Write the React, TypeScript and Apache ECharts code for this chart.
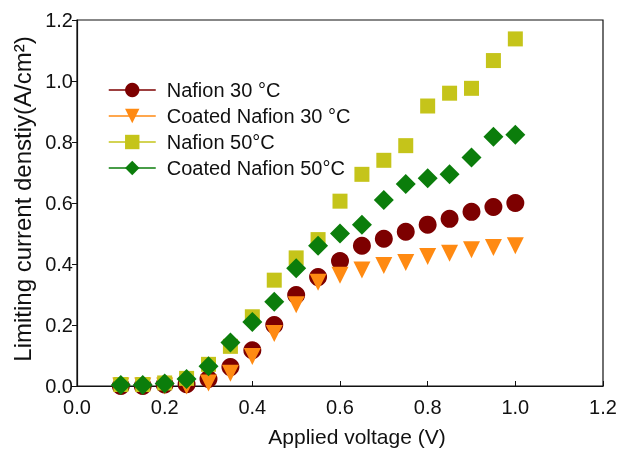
import React, { useEffect, useRef } from "react";
import * as echarts from "echarts";

const voltages = [0.1, 0.15, 0.2, 0.25, 0.3, 0.35, 0.4, 0.45, 0.5, 0.55, 0.6, 0.65, 0.7, 0.75, 0.8, 0.85, 0.9, 0.95, 1.0];
const nafion30 = [0.0, 0.0, 0.005, 0.006, 0.023, 0.062, 0.117, 0.2, 0.298, 0.357, 0.41, 0.46, 0.483, 0.506, 0.529, 0.548, 0.571, 0.587, 0.6];
const coated30 = [0.0, 0.0, 0.0, 0.0, 0.01, 0.042, 0.097, 0.172, 0.266, 0.34, 0.363, 0.38, 0.395, 0.405, 0.425, 0.435, 0.447, 0.454, 0.46];
const nafion50 = [0.005, 0.005, 0.01, 0.025, 0.071, 0.13, 0.227, 0.347, 0.42, 0.48, 0.606, 0.694, 0.74, 0.788, 0.918, 0.96, 0.976, 1.067, 1.138];
const coated50 = [0.003, 0.003, 0.008, 0.023, 0.065, 0.143, 0.21, 0.276, 0.386, 0.46, 0.5, 0.529, 0.61, 0.662, 0.681, 0.694, 0.749, 0.817, 0.824];
const seriesNames = ["Nafion 30 °C", "Coated Nafion 30 °C", "Nafion 50°C", "Coated Nafion 50°C"];

const FONT = "'Liberation Sans', Arial, sans-serif";

export default function App() {
  const ref = useRef<HTMLDivElement>(null);
  useEffect(() => {
    if (!ref.current) return;
    const chart = echarts.init(ref.current, undefined, { renderer: "svg" });
    const pair = (ys: number[]) => voltages.map((x, i) => [x, ys[i]]);
    const mk = (name: string, ys: number[], symbol: string, size: number, color: string, rot = 0) => ({
      name,
      type: "line",
      data: pair(ys),
      symbol,
      symbolSize: size,
      symbolRotate: rot,
      showSymbol: true,
      itemStyle: { color, opacity: 1 },
      lineStyle: { color, width: 0, opacity: 0 },
      emphasis: { disabled: true },
    });
    chart.setOption({
      animation: false,
      textStyle: { fontFamily: FONT },
      grid: { left: 77, right: 19, top: 20, bottom: 62, show: true, borderColor: "#111", borderWidth: 1.2 },
      legend: {
        orient: "vertical",
        left: 103,
        top: 75,
        itemWidth: 47,
        itemHeight: 18,
        itemGap: 6,
        textStyle: { fontSize: 20, lineHeight: 18, color: "#111", fontFamily: FONT, padding: [0, 0, 0, 6] },
        lineStyle: { width: 1.5, opacity: 1 },
        data: seriesNames,
      },
      xAxis: {
        type: "value",
        min: 0,
        max: 1.2,
        interval: 0.2,
        name: "Applied voltage (V)",
        nameLocation: "middle",
        nameGap: 40,
        nameTextStyle: { fontSize: 21, color: "#111", padding: [0, 0, 0, 34] },
        axisLine: { show: true, lineStyle: { color: "#111", width: 1.2 } },
        axisTick: { show: true, inside: true, length: 5, lineStyle: { color: "#111" } },
        axisLabel: { fontSize: 20, color: "#111", margin: 11, formatter: (v: number) => v.toFixed(1) },
        splitLine: { show: false },
      },
      yAxis: {
        type: "value",
        min: 0,
        max: 1.2,
        interval: 0.2,
        name: "Limiting current denstiy(A/cm²)",
        nameLocation: "middle",
        nameGap: 42,
        nameTextStyle: { fontSize: 24, color: "#111", padding: [0, 0, 0, 8] },
        axisLine: { show: true, lineStyle: { color: "#111", width: 1.2 } },
        axisTick: { show: true, inside: false, length: 5, lineStyle: { color: "#111" } },
        axisLabel: { fontSize: 20, color: "#111", margin: 4, formatter: (v: number) => v.toFixed(1) },
        splitLine: { show: false },
      },
      series: [
        mk(seriesNames[0], nafion30, "circle", 18, "#7d0000"),
        mk(seriesNames[1], coated30, "triangle", 17, "#ff8a12", 180),
        mk(seriesNames[2], nafion50, "rect", 15, "#c5c41a"),
        mk(seriesNames[3], coated50, "diamond", 20, "#0b7d0b"),
      ],
    });
    return () => chart.dispose();
  }, []);
  return <div ref={ref} style={{ position: "fixed", left: 0, top: 0, width: 622, height: 452 }} />;
}
